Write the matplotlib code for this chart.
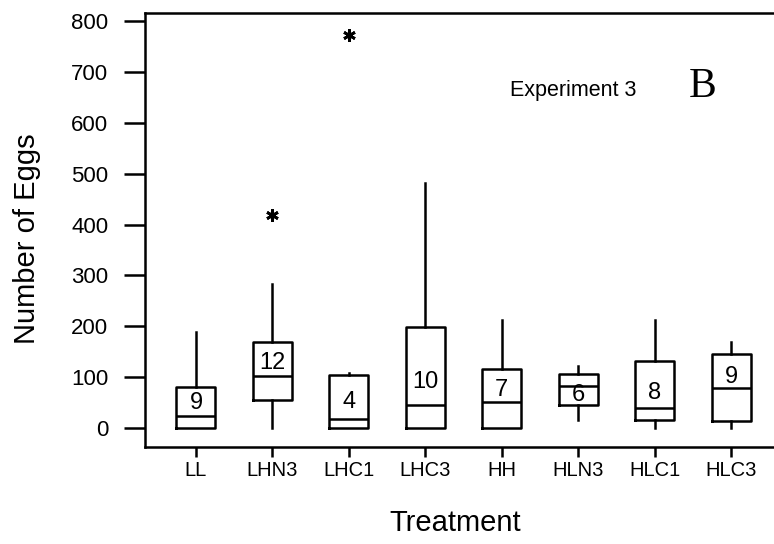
import matplotlib
matplotlib.use("Agg")
import matplotlib.pyplot as plt

# Data (number of eggs per treatment)
treatments = ['LL', 'LHN3', 'LHC1', 'LHC3', 'HH', 'HLN3', 'HLC1', 'HLC3']
whisker_low = [0, 0, 0, 0, 0, 15, 0, 0]
q1 = [0, 55, 0, 0, 0, 45, 15, 14]
median = [24, 103, 17, 45, 51, 83, 40, 78]
q3 = [81, 169, 104, 198, 116, 106, 131, 146]
whisker_high = [188, 283, 108, 481, 212, 121, 212, 169]
outliers = [[], [419], [774], [], [], [], [], []]
n_obs = [9, 12, 4, 10, 7, 6, 8, 9]
label_y = [49, 127, 51, 91, 74, 64, 68, 100]

plt.rcParams['font.family'] = ['Liberation Sans', 'DejaVu Sans']

fig = plt.figure(figsize=(7.74, 5.44), dpi=100)
# axes run slightly past the right edge, as in the cropped scan
ax = fig.add_axes([145 / 774, 1 - 446.7 / 544, 637 / 774, 434 / 544])

stats = []
for i, name in enumerate(treatments):
    stats.append({'label': name, 'med': median[i], 'q1': q1[i], 'q3': q3[i],
                  'whislo': whisker_low[i], 'whishi': whisker_high[i],
                  'fliers': outliers[i]})

positions = list(range(len(treatments)))
lw = 1.8
ax.bxp(stats, positions=positions, widths=0.51, showcaps=False,
       boxprops=dict(color='black', linewidth=lw),
       whiskerprops=dict(color='black', linewidth=lw),
       medianprops=dict(color='black', linewidth=lw),
       flierprops=dict(marker=(6, 2, 0), markersize=9, markeredgecolor='black',
                       markeredgewidth=2, linestyle='none'))

for i, n in enumerate(n_obs):
    ax.text(positions[i], label_y[i], str(n), ha='center', va='center', fontsize=17)

ax.set_xlim(-0.667, 7.667)
ax.set_ylim(-37, 817)
ax.set_yticks(range(0, 801, 100))
ax.set_xticks(positions)
ax.set_xticklabels(treatments)

for side in ['left', 'bottom', 'top']:
    ax.spines[side].set_linewidth(lw)
ax.spines['right'].set_visible(False)

ax.tick_params(axis='y', direction='out', length=15, width=lw, pad=11.5, labelsize=16)
ax.tick_params(axis='x', direction='out', length=7, width=lw, pad=3.6, labelsize=14.5)

ax.set_xlabel('Treatment', fontsize=21)
ax.set_ylabel('Number of Eggs', fontsize=21)
ax.xaxis.set_label_coords(0.487, -0.1435)
ax.yaxis.set_label_coords(-0.163, 0.4786)

fig.text(573 / 774, 1 - 96 / 544, 'Experiment 3', ha='center', va='baseline', fontsize=15.5)
fig.text(703 / 774, 1 - 97 / 544, 'B', ha='center', va='baseline', fontsize=30,
         family='Liberation Serif')

fig.savefig('out.png', dpi=100)
